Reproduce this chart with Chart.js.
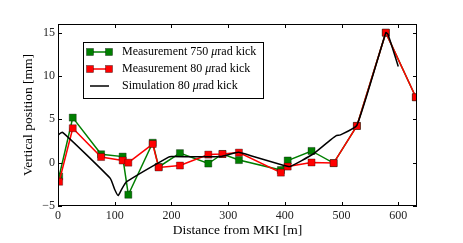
<!DOCTYPE html>
<html>
<head>
<meta charset="utf-8">
<script src="https://cdn.jsdelivr.net/npm/chart.js@4/dist/chart.umd.min.js"></script>
<style>
  html, body { margin: 0; padding: 0; background: #fff; }
  #wrap { width: 463px; height: 243px; }
</style>
</head>
<body>
<div id="wrap"><canvas id="chart" width="463" height="243"></canvas></div>
<script>
// Chart data
const xTicks = [0, 100, 200, 300, 400, 500, 600];
const yTicks = [-5, 0, 5, 10, 15];

const measPos = [2, 26, 76, 114, 124, 167, 177.5, 215, 265, 290, 319, 393, 405, 447, 486, 527, 578, 631];
const meas750 = [-1.6, 5.2, 0.97, 0.7, -3.7, 2.3, -0.5, 1.1, -0.1, 1.0, 0.3, -0.85, 0.25, 1.35, -0.05, 4.24, 15, 7.55];
const meas80 = [-2.2, 3.97, 0.65, 0.25, 0, 2.15, -0.55, -0.33, 0.93, 1.0, 1.16, -1.15, -0.45, 0.02, -0.05, 4.24, 15, 7.55];

const simPos = [0, 8, 92, 100, 106, 112, 121, 195, 200, 286, 318, 340, 397, 409, 450, 480, 490, 498, 527, 578, 582, 600];
const sim80 = [3.2, 3.5, -1.8, -3.1, -3.8, -3.1, -2.2, 0.65, 0.7, 0.7, 1.2, 0.8, -0.3, -0.45, 1.0, 2.6, 3.1, 3.2, 4.3, 15, 14.8, 11.1];

const legendLabels = ['Measurement 750 ', 'Measurement 80 ', 'Simulation 80 '];

const GREEN = '#007f00';
const RED = '#ff0000';
const FONT = '"Liberation Serif", "DejaVu Serif", serif';

function toPoints(xs, ys) {
    return xs.map((x, i) => ({ x: x, y: ys[i] }));
}

// Frame with inward ticks on all four sides, plus the legend box
const framePlugin = {
    id: 'frame',
    afterDraw(chart) {
        const ctx = chart.ctx;
        const a = chart.chartArea;
        const xs = chart.scales.x;
        const ys = chart.scales.y;
        ctx.save();
        ctx.strokeStyle = '#000';
        ctx.lineWidth = 1;
        ctx.strokeRect(a.left + 0.5, a.top + 0.5, a.right - a.left - 1, a.bottom - a.top - 1);
        ctx.beginPath();
        xTicks.forEach(v => {
            const px = Math.round(xs.getPixelForValue(v)) + 0.5;
            ctx.moveTo(px, a.bottom); ctx.lineTo(px, a.bottom - 4);
            ctx.moveTo(px, a.top); ctx.lineTo(px, a.top + 4);
        });
        yTicks.forEach(v => {
            const py = Math.round(ys.getPixelForValue(v)) + 0.5;
            ctx.moveTo(a.left, py); ctx.lineTo(a.left + 4, py);
            ctx.moveTo(a.right, py); ctx.lineTo(a.right - 4, py);
        });
        ctx.stroke();

        // legend
        const bx = 83, by = 42, bw = 180, bh = 56;
        ctx.fillStyle = '#fff';
        ctx.fillRect(bx, by, bw, bh);
        ctx.strokeStyle = '#000';
        ctx.strokeRect(bx + 0.5, by + 0.5, bw, bh);
        const colors = [GREEN, RED, '#000'];
        const rows = [52, 69, 86];
        rows.forEach((ry, i) => {
            ctx.strokeStyle = colors[i];
            ctx.lineWidth = 1.5;
            ctx.beginPath();
            ctx.moveTo(90, ry); ctx.lineTo(109, ry);
            ctx.stroke();
            if (i < 2) {
                [90, 109].forEach(mx => {
                    ctx.fillStyle = colors[i];
                    ctx.fillRect(mx - 3.5, ry - 3.5, 7, 7);
                    ctx.lineWidth = 0.6;
                    ctx.strokeStyle = 'rgba(0,0,0,0.6)';
                    ctx.strokeRect(mx - 3.5, ry - 3.5, 7, 7);
                });
            }
            ctx.fillStyle = '#000';
            ctx.textBaseline = 'middle';
            ctx.font = '12px ' + FONT;
            let tx = 122;
            ctx.fillText(legendLabels[i], tx, ry);
            tx += ctx.measureText(legendLabels[i]).width;
            ctx.font = 'italic 12px ' + FONT;
            ctx.fillText('\u03bc', tx, ry);
            tx += ctx.measureText('\u03bc').width;
            ctx.font = '12px ' + FONT;
            ctx.fillText('rad kick', tx, ry);
        });
        ctx.restore();
    }
};

new Chart(document.getElementById('chart'), {
    type: 'scatter',
    data: {
        datasets: [
            {
                label: 'Simulation 80 \u03bcrad kick',
                data: toPoints(simPos, sim80),
                showLine: true,
                borderColor: '#000',
                borderWidth: 1.5,
                pointRadius: 0,
                tension: 0.15,
                order: 0
            },
            {
                label: 'Measurement 80 \u03bcrad kick',
                data: toPoints(measPos, meas80),
                showLine: true,
                borderColor: RED,
                backgroundColor: RED,
                borderWidth: 1.5,
                pointStyle: 'rect',
                pointRadius: 5,
                pointBorderColor: 'rgba(0,0,0,0.55)',
                pointBorderWidth: 0.6,
                order: 1
            },
            {
                label: 'Measurement 750 \u03bcrad kick',
                data: toPoints(measPos, meas750),
                showLine: true,
                borderColor: GREEN,
                backgroundColor: GREEN,
                borderWidth: 1.5,
                pointStyle: 'rect',
                pointRadius: 5,
                pointBorderColor: 'rgba(0,0,0,0.55)',
                pointBorderWidth: 0.6,
                order: 2
            }
        ]
    },
    options: {
        responsive: false,
        animation: false,
        layout: { padding: { left: 0, right: 46, top: 24, bottom: 0 } },
        plugins: {
            legend: { display: false },
            tooltip: { enabled: false }
        },
        scales: {
            x: {
                type: 'linear',
                min: 0,
                max: 633,
                afterBuildTicks: s => { s.ticks = xTicks.map(v => ({ value: v })); },
                afterFit: s => { s.height = 37; },
                grid: { display: false, drawTicks: false },
                border: { display: false },
                ticks: {
                    padding: 3,
                    color: '#222',
                    font: { family: FONT, size: 12 },
                    callback: v => String(v)
                },
                title: {
                    display: true,
                    text: 'Distance from MKI [m]',
                    color: '#000',
                    font: { family: FONT, size: 13.5 },
                    padding: { bottom: 4 }
                }
            },
            y: {
                type: 'linear',
                min: -5,
                max: 16,
                afterBuildTicks: s => { s.ticks = yTicks.map(v => ({ value: v })); },
                afterFit: s => { s.width = 58; },
                grid: { display: false, drawTicks: false },
                border: { display: false },
                ticks: {
                    padding: 3,
                    color: '#222',
                    font: { family: FONT, size: 12 },
                    callback: v => (v < 0 ? '\u2212' + Math.abs(v) : String(v))
                },
                title: {
                    display: true,
                    text: 'Vertical position [mm]',
                    color: '#000',
                    font: { family: FONT, size: 13.5 },
                    padding: { top: 20 }
                }
            }
        }
    },
    plugins: [framePlugin]
});
</script>
</body>
</html>
